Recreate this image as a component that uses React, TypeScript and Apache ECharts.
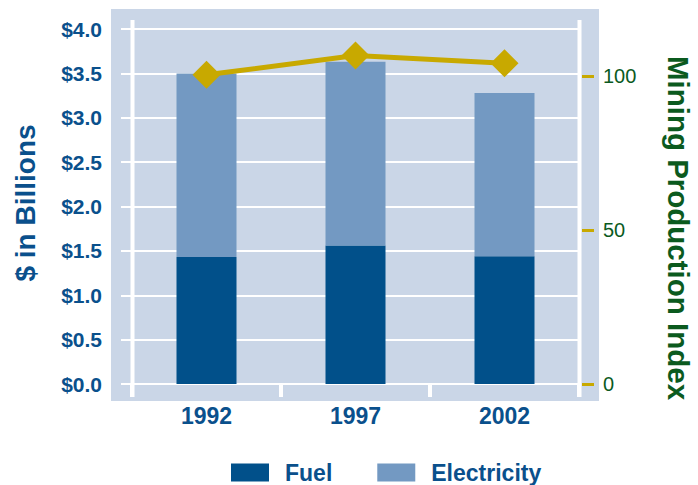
import React, { useEffect, useRef } from "react";
import * as echarts from "echarts";

const categories = ["1992", "1997", "2002"];
const fuelValues = [1.43, 1.56, 1.44];
const electricityValues = [2.07, 2.07, 1.84];
const miningIndexValues = [100.5, 106.8, 104.3];
const rightTickValues = [0, 50, 100];

const BLUE_TEXT = "#0a508c";
const GREEN_TEXT = "#0b5a1e";
const GOLD = "#c8a900";
const FONT = "'Liberation Sans', Arial, sans-serif";

export default function App() {
  const ref = useRef<HTMLDivElement>(null);
  useEffect(() => {
    if (!ref.current) return;
    const chart = echarts.init(ref.current, undefined, { renderer: "svg" });
    chart.setOption({
      animation: false,
      textStyle: { fontFamily: FONT },
      grid: { left: 132, right: 119, top: 29, bottom: 101, containLabel: false },
      graphic: [
        {
          type: "rect",
          z: -10,
          silent: true,
          shape: { x: 111, y: 9, width: 488, height: 392 },
          style: { fill: "#cad6e7" },
        },
        {
          type: "line",
          z: 1,
          silent: true,
          shape: { x1: 132.5, y1: 20, x2: 132.5, y2: 397 },
          style: { stroke: "#ffffff", lineWidth: 4 },
        },
        {
          type: "line",
          z: 1,
          silent: true,
          shape: { x1: 579.5, y1: 20, x2: 579.5, y2: 397 },
          style: { stroke: "#ffffff", lineWidth: 4 },
        },
        {
          type: "text",
          x: 25,
          y: 203,
          rotation: Math.PI / 2,
          style: {
            text: "$ in Billions",
            fill: BLUE_TEXT,
            font: `bold 28px ${FONT}`,
            align: "center",
            verticalAlign: "middle",
          },
        },
        {
          type: "text",
          x: 678,
          y: 228,
          rotation: -Math.PI / 2,
          style: {
            text: "Mining Production Index",
            fill: GREEN_TEXT,
            font: `bold 29.5px ${FONT}`,
            align: "center",
            verticalAlign: "middle",
          },
        },
      ],
      legend: {
        data: ["Fuel", "Electricity"],
        left: 231,
        top: 461,
        padding: 0,
        itemWidth: 38,
        itemHeight: 18,
        itemGap: 45,
        icon: "rect",
        textStyle: {
          fontSize: 23,
          fontWeight: "bold",
          color: BLUE_TEXT,
          fontFamily: FONT,
          padding: [0, 0, 0, 11],
        },
      },
      xAxis: {
        type: "category",
        data: categories,
        boundaryGap: true,
        axisLine: { show: true, lineStyle: { color: "#ffffff", width: 2 } },
        axisTick: {
          show: true,
          interval: 0,
          length: 13,
          lineStyle: { color: "#ffffff", width: 4 },
        },
        axisLabel: {
          margin: 20,
          fontSize: 23,
          fontWeight: "bold",
          color: BLUE_TEXT,
          fontFamily: FONT,
        },
      },
      yAxis: [
        {
          type: "value",
          min: 0,
          max: 4,
          interval: 0.5,
          position: "left",
          axisLine: { show: false },
          axisTick: {
            show: true,
            length: 11,
            lineStyle: { color: "#ffffff", width: 2 },
          },
          splitLine: { show: true, lineStyle: { color: "#ffffff", width: 2 } },
          axisLabel: {
            margin: 30,
            fontSize: 21,
            fontWeight: "bold",
            color: BLUE_TEXT,
            fontFamily: FONT,
            formatter: (v: number) => "$" + v.toFixed(1),
          },
        },
        {
          type: "value",
          min: 0,
          max: 115.4,
          position: "right",
          offset: 3,
          axisLine: { show: false },
          splitLine: { show: false },
          axisTick: {
            show: true,
            length: 12,
            customValues: rightTickValues,
            lineStyle: { color: GOLD, width: 3 },
          },
          axisLabel: {
            margin: 21,
            fontSize: 20,
            color: GREEN_TEXT,
            fontFamily: FONT,
            customValues: rightTickValues,
          },
        },
      ],
      series: [
        {
          name: "Fuel",
          type: "bar",
          stack: "cost",
          barWidth: 60,
          data: fuelValues,
          itemStyle: { color: "#01508a" },
          z: 2,
        },
        {
          name: "Electricity",
          type: "bar",
          stack: "cost",
          barWidth: 60,
          data: electricityValues,
          itemStyle: { color: "#7399c2" },
          z: 2,
        },
        {
          name: "Mining Production Index",
          type: "line",
          yAxisIndex: 1,
          data: miningIndexValues,
          symbol: "diamond",
          symbolSize: 28,
          lineStyle: { color: GOLD, width: 5 },
          itemStyle: { color: GOLD },
          z: 4,
        },
      ],
    });
    return () => chart.dispose();
  }, []);
  return <div ref={ref} style={{ width: 698, height: 485, position: "absolute", left: 0, top: 0 }} />;
}
